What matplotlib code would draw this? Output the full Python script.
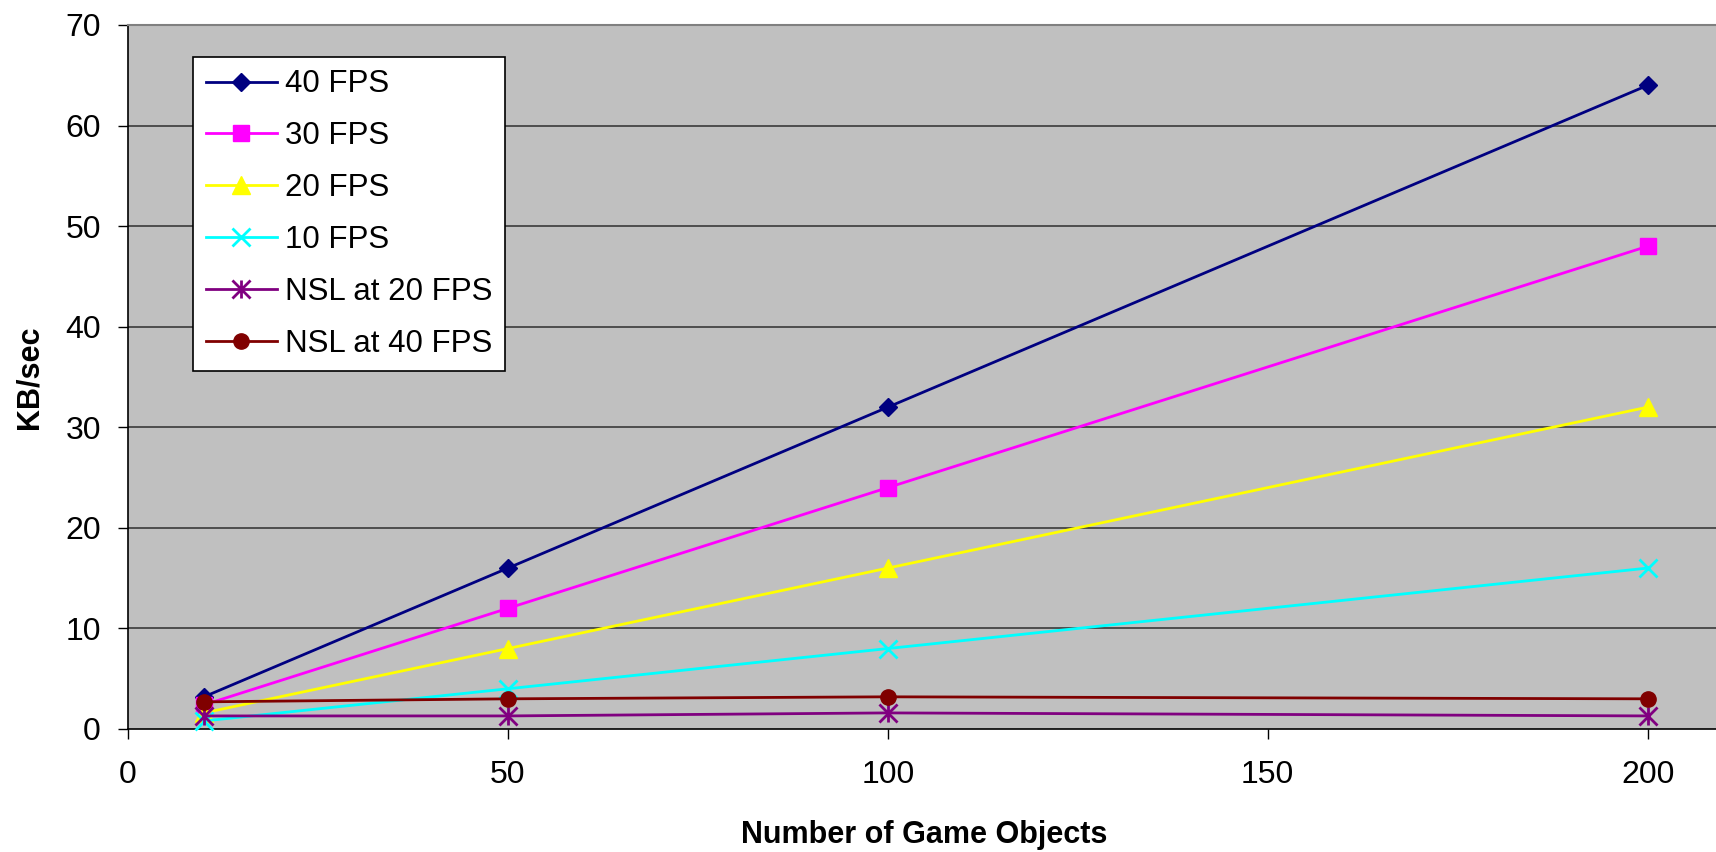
import matplotlib
matplotlib.use("Agg")
import matplotlib.pyplot as plt
from matplotlib.path import Path

# ------------------------------------------------------------
# Data
# ------------------------------------------------------------
game_objects = [10, 50, 100, 200]

fps_40 = [3.2, 16, 32, 64]
fps_30 = [2.4, 12, 24, 48]
fps_20 = [1.6, 8, 16, 32]
fps_10 = [0.8, 4, 8, 16]
nsl_20 = [1.3, 1.3, 1.6, 1.3]
nsl_40 = [2.7, 3.0, 3.2, 3.0]

series_labels = ["40 FPS", "30 FPS", "20 FPS", "10 FPS",
                 "NSL at 20 FPS", "NSL at 40 FPS"]

x_ticks = [0, 50, 100, 150, 200]
y_ticks = [0, 10, 20, 30, 40, 50, 60, 70]


def main():

    plt.rcParams["font.family"] = ["Liberation Sans", "DejaVu Sans"]

    # asterisk marker: an x with a vertical bar through it
    asterisk = Path(
        [(-1, -1), (1, 1), (-1, 1), (1, -1), (0, -1), (0, 1)],
        [Path.MOVETO, Path.LINETO, Path.MOVETO, Path.LINETO,
         Path.MOVETO, Path.LINETO],
    )

    styles = [
        dict(color="#000080", marker="D", ms=9),
        dict(color="#FF00FF", marker="s", ms=11),
        dict(color="#FFFF00", marker="^", ms=13),
        dict(color="#00FFFF", marker="x", ms=13, mew=2),
        dict(color="#800080", marker=asterisk, ms=13, mew=2),
        dict(color="#800000", marker="o", ms=11),
    ]
    values = [fps_40, fps_30, fps_20, fps_10, nsl_20, nsl_40]

    # ------------------------------------------------------------
    # Figure / axes
    # ------------------------------------------------------------
    fig = plt.figure(figsize=(17.16, 8.52), dpi=100)
    ax = fig.add_axes([128 / 1716, 123 / 852, 1588 / 1716, 704 / 852])
    ax.set_facecolor("#C0C0C0")

    for y in y_ticks[1:]:
        ax.axhline(y, color="#3a3a3a", lw=1.2, zorder=1)

    for vals, label, st in zip(values, series_labels, styles):
        ax.plot(game_objects, vals, label=label, lw=2.0, zorder=3,
                clip_on=False, **st)

    ax.set_xlim(0, 209)
    ax.set_ylim(0, 70)
    ax.set_xticks(x_ticks)
    ax.set_yticks(y_ticks)
    ax.tick_params(axis="both", direction="out", length=7.5, width=1,
                   labelsize=23, color="black")
    ax.tick_params(axis="x", pad=15)
    ax.tick_params(axis="y", pad=12)

    ax.spines["right"].set_visible(False)
    ax.spines["top"].set_color("#808080")
    ax.spines["top"].set_linewidth(1.5)
    ax.spines["left"].set_color("black")
    ax.spines["bottom"].set_color("black")
    ax.spines["left"].set_linewidth(1.2)
    ax.spines["bottom"].set_linewidth(1.2)

    # ------------------------------------------------------------
    # Axis titles
    # ------------------------------------------------------------
    fig.text(924 / 1716, 1 - 835 / 852, "Number of Game Objects",
             ha="center", va="center", fontsize=22, fontweight="bold")
    fig.text(30 / 1716, 1 - 377 / 852, "KB/sec", rotation=90,
             ha="center", va="center", fontsize=22, fontweight="bold")

    # ------------------------------------------------------------
    # Legend
    # ------------------------------------------------------------
    leg = ax.legend(
        loc="upper left",
        bbox_to_anchor=((193 - 128) / 1588, (729 - 57) / 704),
        fontsize=22.5,
        frameon=True,
        fancybox=False,
        framealpha=1,
        edgecolor="black",
        borderpad=0.4,
        labelspacing=0.7,
        handlelength=2.3,
        handletextpad=0.25,
        borderaxespad=0,
    )
    leg.get_frame().set_linewidth(1.2)

    fig.savefig("out.png", dpi=100)


if __name__ == "__main__":
    main()
